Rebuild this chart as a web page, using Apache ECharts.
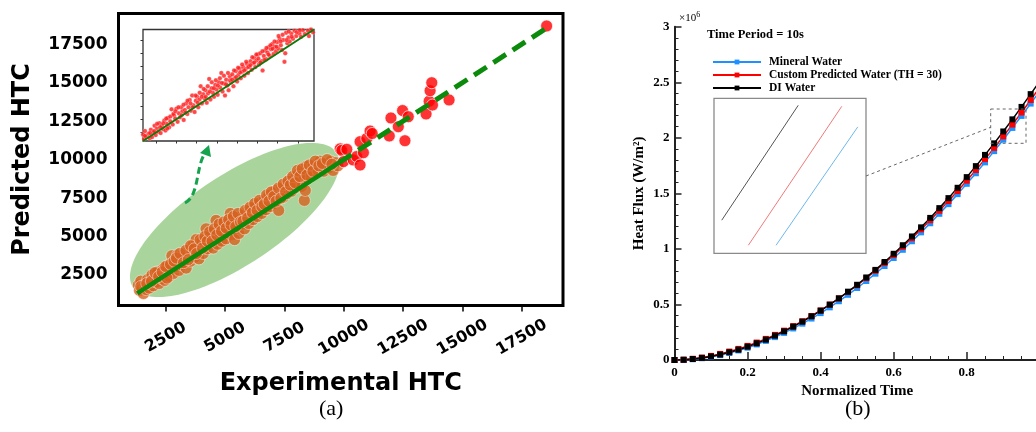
<!DOCTYPE html>
<html>
<head>
<meta charset="utf-8">
<script src="https://cdn.jsdelivr.net/npm/echarts@6/dist/echarts.min.js"></script>
<style>
  html, body { margin: 0; padding: 0; background: #fff; }
  #chart { width: 1036px; height: 432px; }
</style>
</head>
<body>
<div id="chart"></div>
<script>
// ---------- (a) experimental vs predicted heat transfer coefficient ----------
const htcTicks = [2500, 5000, 7500, 10000, 12500, 15000, 17500];
const detailTicks = [2000, 3000, 4000, 5000, 6000, 7000, 8000, 9000];

// training-range samples (inside the highlighted band)
const bandPoints = [
  [1350,1850],[1400,1500],[1450,2100],[1500,1650],[1560,1300],[1620,1900],[1680,1550],[1740,2200],[1800,1650],[1860,2000],
  [1920,2500],[1980,1800],[2040,2300],[2100,2050],[2160,2700],[2220,1950],[2280,2500],[2340,2250],[2400,2900],[2460,2150],
  [2520,2650],[2580,3100],[2640,2400],[2700,2850],[2760,3750],[2820,2600],[2880,3300],[2940,3050],[3000,3800],[3060,2800],
  [3120,3450],[3180,3150],[3240,3900],[3300,3600],[3360,2950],[3420,3700],[3480,4200],[3540,3400],[3600,3900],[3660,4450],
  [3720,3650],[3780,4800],[3840,4050],[3900,3550],[3960,4400],[4020,4700],[4080,3900],[4140,4500],[4200,5500],[4260,4200],
  [4320,4900],[4380,4600],[4440,5200],[4500,4250],[4560,4950],[4620,6050],[4680,4500],[4740,5350],[4800,5000],[4860,4700],
  [4920,5600],[4980,5250],[5040,4850],[5100,5800],[5160,5400],[5220,6500],[5280,5100],[5340,5700],[5400,4800],[5460,6000],
  [5520,5550],[5580,5200],[5640,6250],[5700,5800],[5760,6400],[5820,5500],[5880,6100],[5940,6650],[6000,5850],[6060,6350],
  [6120,6850],[6180,6100],[6240,6600],[6300,6950],[6360,6300],[6420,6800],[6480,7200],[6540,6500],[6600,7000],[6660,7400],
  [6720,6750],[6780,7250],[6840,7650],[6900,6950],[6960,7450],[7020,7900],[7080,7150],[7140,8000],[7200,7400],[7260,6700],
  [7320,7800],[7380,8200],[7440,7550],[7500,8050],[7560,8450],[7620,7800],[7680,8300],[7740,8700],[7800,7950],[7860,8500],
  [7920,8150],[7980,8850],[8040,8350],[8100,9100],[8160,8600],[8220,8250],[8280,9000],[8340,7350],[8380,8000],[8420,9550],
  [8480,8750],[8540,9200],[8600,8900],[8680,9500],[8760,9100],[8840,9700],[8920,9300],[9000,9900],[9080,9500],[9160,9250],
  [9250,9750],[9350,9450],[9450,9900],[9550,9300],[9650,9800],[9750,9600],
  [1450,1750],[1700,1950],[1900,2100],[2050,2650],[2200,2400],[2350,2700],[2500,3050],[2550,2300],[2700,3200],[2850,3400],
  [2950,3600],[3100,3900],[3250,3300],[3350,4100],[3450,3500],[3550,4400],[3700,4200],[3800,3900],[3950,4800],[4050,4250],
  [4150,5000],[4250,4700],[4350,5300],[4450,4700],[4550,5500],[4650,5100],[4750,5800],[4850,5350],[4950,5950],[5050,5550],
  [5150,6100],[5250,5750],[5350,6300],[5450,5650],[5550,6500],[5650,5950],[5750,6000],[5850,6700],[5950,6200],[6050,6900],
  [6150,6550],[6250,7150],[6350,6700],[6450,7350],[6550,6950],[6650,7100],[6750,7700],[6850,7300],[6950,7900],[7050,7600],
  [7150,7300],[7250,8150],[7350,7500],[7450,8400],[7550,7900],[7650,8600],[7750,8350],[7850,8900],[7950,8500],[8050,9300],
  [8150,8900],[8250,9400],[8450,9000],[8550,9650],[8700,9250],[8800,9900],[8950,9600],[9100,9750],[9300,10000],[9500,9700]
];

// samples beyond the training range
const outerPoints = [
  [9850,10700],[9920,10600],[9990,9870],[10130,10670],[10400,9980],[10550,10200],[10690,9650],[10690,11170],
  [10830,10450],[10970,11380],[11110,11860],[11200,11700],[11920,11540],[11990,12710],[12300,12140],[12480,13190],
  [12580,11230],[12720,12790],[13470,12970],[13600,13800],[13640,14480],[13710,15000],[13740,13550],[14440,13880],
  [18550,18690]
];

// parity line: fitted range (solid) and extrapolated range (dashed)
const parityFitted = [[1300, 1300], [9800, 9800]];
const parityExtrapolated = [[9800, 9800], [18550, 18550]];
const parityDetail = [[1350, 1350], [9800, 9800]];

// ---------- (b) heat flux history ----------
const timeSteps = [
  0, 0.025, 0.05, 0.075, 0.1, 0.125, 0.15, 0.175, 0.2, 0.225, 0.25, 0.275, 0.3, 0.325, 0.35, 0.375, 0.4,
  0.425, 0.45, 0.475, 0.5, 0.525, 0.55, 0.575, 0.6, 0.625, 0.65, 0.675, 0.7, 0.725, 0.75, 0.775, 0.8,
  0.825, 0.85, 0.875, 0.9, 0.925, 0.95, 0.975, 1.0
];
// heat flux, x10^6 W/m^2
const mineralWater = [
  0, 0.001, 0.007, 0.016, 0.028, 0.044, 0.063, 0.086, 0.111, 0.140, 0.172, 0.206, 0.244, 0.284, 0.327, 0.373, 0.422,
  0.474, 0.529, 0.587, 0.648, 0.711, 0.777, 0.846, 0.918, 0.992, 1.069, 1.149, 1.231, 1.316, 1.403, 1.493, 1.586,
  1.681, 1.779, 1.880, 1.983, 2.089, 2.197, 2.308, 2.421
];
const customWater = [
  0, 0.003, 0.011, 0.022, 0.037, 0.055, 0.076, 0.100, 0.127, 0.157, 0.190, 0.226, 0.264, 0.305, 0.349, 0.396, 0.446,
  0.499, 0.554, 0.612, 0.673, 0.737, 0.803, 0.872, 0.944, 1.019, 1.096, 1.176, 1.258, 1.343, 1.431, 1.521, 1.614,
  1.710, 1.808, 1.909, 2.013, 2.119, 2.228, 2.340, 2.455
];
const diWater = [
  0, 0.002, 0.009, 0.019, 0.032, 0.049, 0.070, 0.093, 0.120, 0.150, 0.183, 0.219, 0.258, 0.300, 0.345, 0.393, 0.444,
  0.498, 0.555, 0.615, 0.677, 0.743, 0.811, 0.882, 0.956, 1.033, 1.112, 1.194, 1.279, 1.367, 1.457, 1.550, 1.646,
  1.745, 1.846, 1.950, 2.057, 2.166, 2.278, 2.393, 2.510
];
const seriesNames = ['Mineral Water', 'Custom Predicted Water (TH = 30)', 'DI Water'];

// magnified window near the end of the heating period
const detailWindowT = [0.866, 0.962];
const detailWindowQ = [1.950, 2.259];
const detailDI = [[0.8709, 2.016], [0.9192, 2.245]];
const detailCustom = [[0.8877, 1.966], [0.9467, 2.243]];
const detailMineral = [[0.9052, 1.966], [0.9568, 2.202]];

const SANS = 'DejaVu Sans';
const SERIF = 'Liberation Serif';
const zip = (xs, ys) => xs.map((x, i) => [x, ys[i]]);

function ellipsePoints(cx, cy, rx, ry, deg) {
  const th = deg * Math.PI / 180, pts = [];
  for (let k = 0; k < 120; k++) {
    const p = 2 * Math.PI * k / 120;
    const ex = rx * Math.cos(p), ey = ry * Math.sin(p);
    pts.push([cx + ex * Math.cos(th) - ey * Math.sin(th), cy - (ex * Math.sin(th) + ey * Math.cos(th))]);
  }
  return pts;
}

const chart = echarts.init(document.getElementById('chart'), null, { renderer: 'canvas' });

const boldSans = (size) => ({ fontFamily: SANS, fontWeight: 'bold', fontSize: size, color: '#000' });
const boldSerif = (size) => ({ fontFamily: SERIF, fontWeight: 'bold', fontSize: size, color: '#000' });
const plain = (v) => String(v);

const option = {
  animation: false,
  backgroundColor: '#fff',
  grid: [
    { left: 118.5, top: 13.5, width: 444.5, height: 292, show: true, borderColor: '#000', borderWidth: 3, backgroundColor: '#fff', containLabel: false, outerBoundsMode: 'none' },
    { left: 143, top: 29.5, width: 171, height: 111.5, show: true, borderColor: '#333', borderWidth: 1.3, backgroundColor: '#fff', containLabel: false, outerBoundsMode: 'none' },
    { left: 674.5, top: 26.7, width: 365.3, height: 333.3, containLabel: false, outerBoundsMode: 'none' },
    { left: 714, top: 98.3, width: 152, height: 155, show: true, borderColor: '#8a8a8a', borderWidth: 1.3, backgroundColor: '#fff', containLabel: false, outerBoundsMode: 'none' }
  ],
  xAxis: [
    {
      gridIndex: 0, type: 'value', min: 510, max: 19240,
      axisLine: { show: false }, splitLine: { show: false },
      axisTick: { show: true, customValues: htcTicks, length: 6, lineStyle: { color: '#000', width: 1.5 } },
      axisLabel: { customValues: htcTicks, formatter: plain, rotate: 30, align: 'center', verticalAlign: 'middle', margin: 32, ...boldSans(16) },
      name: 'Experimental HTC', nameLocation: 'middle', nameGap: 66, nameTextStyle: boldSans(24)
    },
    {
      gridIndex: 1, type: 'value', min: 1350, max: 9800,
      axisLine: { show: false }, splitLine: { show: false }, axisLabel: { show: false },
      axisTick: { show: true, customValues: detailTicks, length: 2.5, lineStyle: { color: '#333', width: 1 } }
    },
    {
      gridIndex: 2, type: 'value', min: 0, max: 1, interval: 0.2,
      axisLine: { show: true, onZero: false, lineStyle: { color: '#222', width: 2 } },
      splitLine: { show: false },
      axisTick: { show: true, inside: true, length: 8, lineStyle: { color: '#222', width: 1.5 } },
      minorTick: { show: true, splitNumber: 4, length: 4, lineStyle: { color: '#222', width: 1 } },
      axisLabel: { margin: 6, formatter: (v) => (v === 0 || v === 1 ? String(v) : v.toFixed(1)), ...boldSerif(13) },
      name: 'Normalized Time', nameLocation: 'middle', nameGap: 20, nameTextStyle: boldSerif(15)
    },
    {
      gridIndex: 3, type: 'value', min: detailWindowT[0], max: detailWindowT[1],
      show: false
    }
  ],
  yAxis: [
    {
      gridIndex: 0, type: 'value', min: 517, max: 19500,
      axisLine: { show: false }, splitLine: { show: false }, axisTick: { show: false },
      axisLabel: { customValues: htcTicks, formatter: plain, margin: 11, ...boldSans(17) },
      name: 'Predicted HTC', nameLocation: 'middle', nameGap: 84, nameTextStyle: boldSans(24)
    },
    {
      gridIndex: 1, type: 'value', min: 1350, max: 9800,
      axisLine: { show: false }, splitLine: { show: false }, axisLabel: { show: false },
      axisTick: { show: true, customValues: detailTicks, length: 2.5, lineStyle: { color: '#333', width: 1 } }
    },
    {
      gridIndex: 2, type: 'value', min: 0, max: 3, interval: 0.5,
      axisLine: { show: true, onZero: false, lineStyle: { color: '#222', width: 2 } },
      splitLine: { show: false },
      axisTick: { show: true, inside: true, length: 7, lineStyle: { color: '#222', width: 1.5 } },
      minorTick: { show: true, splitNumber: 5, length: 4, lineStyle: { color: '#222', width: 1 } },
      axisLabel: { margin: 5, formatter: (v) => String(+v.toFixed(1)), ...boldSerif(13) },
      name: 'Heat Flux (W/m²)', nameLocation: 'middle', nameGap: 28, nameTextStyle: boldSerif(15)
    },
    {
      gridIndex: 3, type: 'value', min: detailWindowQ[0], max: detailWindowQ[1],
      show: false
    }
  ],
  legend: {
    data: seriesNames,
    orient: 'vertical', left: 707, top: 50.5,
    itemWidth: 48, itemHeight: 6, itemGap: 0,
    textStyle: { ...boldSerif(11.5), lineHeight: 13, padding: [0, 0, 0, 3] },
    selectedMode: false
  },
  series: [
    {
      type: 'scatter', name: 'band', xAxisIndex: 0, yAxisIndex: 0, data: bandPoints,
      symbolSize: 12, itemStyle: { color: '#d6621f', borderColor: 'rgba(255,255,255,0.7)', borderWidth: 0.8 }, z: 2
    },
    {
      type: 'scatter', name: 'outer', xAxisIndex: 0, yAxisIndex: 0, data: outerPoints,
      symbolSize: 12, itemStyle: { color: '#ff0000', borderColor: 'rgba(255,255,255,0.85)', borderWidth: 1 }, z: 2
    },
    {
      type: 'line', name: 'parity', xAxisIndex: 0, yAxisIndex: 0, data: parityFitted,
      symbol: 'none', lineStyle: { color: '#0b8a0b', width: 4.5 }, z: 3
    },
    {
      type: 'line', name: 'parity-ext', xAxisIndex: 0, yAxisIndex: 0, data: parityExtrapolated,
      symbol: 'none', lineStyle: { color: '#0b8a0b', width: 5, type: [15, 8] }, z: 3
    },
    {
      type: 'scatter', name: 'band-detail', xAxisIndex: 1, yAxisIndex: 1, data: bandPoints,
      symbolSize: 4.5, itemStyle: { color: '#ff1a1a', borderColor: 'rgba(255,255,255,0.6)', borderWidth: 0.5 }, z: 4
    },
    {
      type: 'line', name: 'parity-detail', xAxisIndex: 1, yAxisIndex: 1, data: parityDetail,
      symbol: 'none', lineStyle: { color: '#0b7a0b', width: 2 }, z: 5
    },
    {
      type: 'line', name: seriesNames[0], xAxisIndex: 2, yAxisIndex: 2, data: zip(timeSteps, mineralWater),
      symbol: 'rect', symbolSize: 6, showAllSymbol: true,
      itemStyle: { color: '#1e90ff' }, lineStyle: { color: '#1e90ff', width: 1.5 }
    },
    {
      type: 'line', name: seriesNames[1], xAxisIndex: 2, yAxisIndex: 2, data: zip(timeSteps, customWater),
      symbol: 'rect', symbolSize: 6, showAllSymbol: true,
      itemStyle: { color: '#ff0000' }, lineStyle: { color: '#ff0000', width: 1.5 }
    },
    {
      type: 'line', name: seriesNames[2], xAxisIndex: 2, yAxisIndex: 2, data: zip(timeSteps, diWater),
      symbol: 'rect', symbolSize: 6, showAllSymbol: true,
      itemStyle: { color: '#000' }, lineStyle: { color: '#000', width: 1.5 }
    },
    {
      type: 'line', name: 'detail-di', xAxisIndex: 3, yAxisIndex: 3, data: detailDI,
      symbol: 'none', lineStyle: { color: '#555', width: 1 }
    },
    {
      type: 'line', name: 'detail-custom', xAxisIndex: 3, yAxisIndex: 3, data: detailCustom,
      symbol: 'none', lineStyle: { color: '#f07a7a', width: 1 }
    },
    {
      type: 'line', name: 'detail-mineral', xAxisIndex: 3, yAxisIndex: 3, data: detailMineral,
      symbol: 'none', lineStyle: { color: '#6fb8ec', width: 1 }
    }
  ],
  graphic: [
    // highlighted training band
    { type: 'polygon', z: 1, shape: { points: ellipsePoints(234.7, 220, 122, 45, 33.5) }, style: { fill: '#a9d59c' }, silent: true },
    // arrow from the band to the detail view
    {
      type: 'bezierCurve', z: 6, silent: true,
      shape: { x1: 185, y1: 203, cpx1: 199, cpy1: 196, cpx2: 196, cpy2: 168, x2: 204, y2: 155 },
      style: { stroke: '#16a34e', lineWidth: 3, lineDash: [7, 4], fill: null }
    },
    { type: 'polygon', z: 6, silent: true, shape: { points: [[209, 145], [200, 153], [211, 157]] }, style: { fill: '#16a34e' } },
    // magnification marker in (b)
    { type: 'rect', z: 6, silent: true, shape: { x: 990.7, y: 109, width: 35.3, height: 34.3 }, style: { fill: null, stroke: '#666', lineWidth: 1, lineDash: [3, 3] } },
    { type: 'line', z: 6, silent: true, shape: { x1: 866, y1: 176, x2: 990.7, y2: 127.3 }, style: { stroke: '#666', lineWidth: 1, lineDash: [3, 3] } },
    // annotations
    {
      type: 'text', left: 679, top: 11, silent: true,
      style: { text: '{a|×10}{s|6}', rich: { a: { fontFamily: SERIF, fontSize: 11, fill: '#000' }, s: { fontFamily: SERIF, fontSize: 8, fill: '#000', padding: [0, 0, 7, 0] } } }
    },
    { type: 'text', left: 707, top: 28, silent: true, style: { text: 'Time Period = 10s', font: 'bold 12.5px "Liberation Serif"', fill: '#000' } },
    { type: 'text', left: 319, top: 398, silent: true, style: { text: '(a)', font: '22px "Liberation Serif"', fill: '#000' } },
    { type: 'text', left: 845, top: 398, silent: true, style: { text: '(b)', font: '22px "Liberation Serif"', fill: '#000' } }
  ]
};

chart.setOption(option);
</script>
</body>
</html>
